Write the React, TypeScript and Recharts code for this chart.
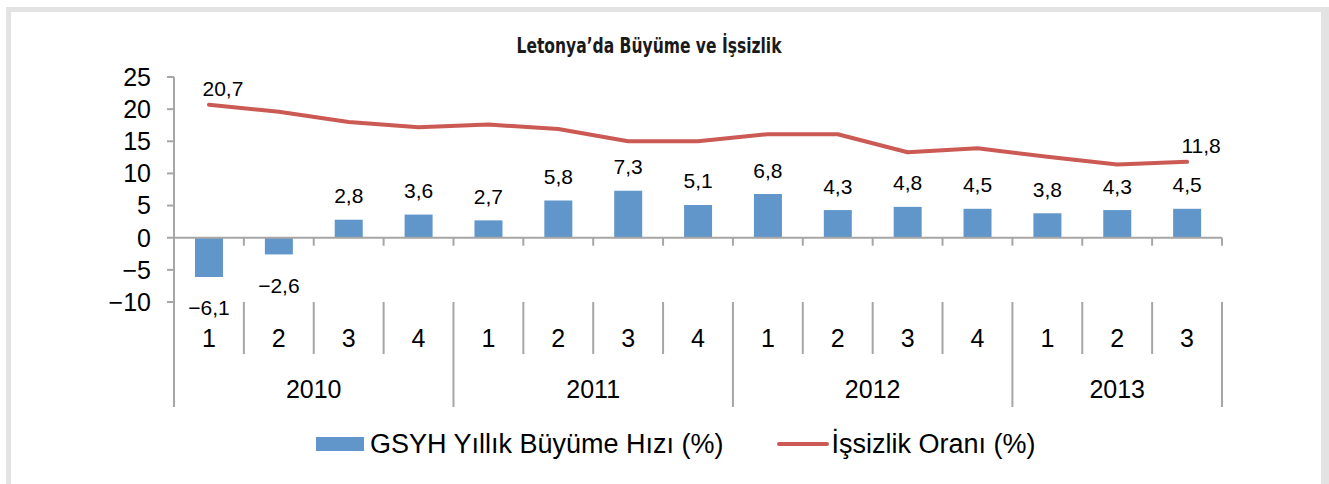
import React from 'react';
import { ComposedChart, Bar, Line, XAxis, YAxis, ReferenceLine, LabelList, Legend } from 'recharts';

const title = 'Letonya’da Büyüme ve İşsizlik';
const quarters = ['1', '2', '3', '4', '1', '2', '3', '4', '1', '2', '3', '4', '1', '2', '3'];
const years = ['2010', '2010', '2010', '2010', '2011', '2011', '2011', '2011', '2012', '2012', '2012', '2012', '2013', '2013', '2013'];
const gdpGrowth = [-6.1, -2.6, 2.8, 3.6, 2.7, 5.8, 7.3, 5.1, 6.8, 4.3, 4.8, 4.5, 3.8, 4.3, 4.5];
const unemployment = [20.7, 19.6, 18.0, 17.2, 17.6, 16.9, 15.0, 15.0, 16.1, 16.1, 13.3, 13.9, 12.6, 11.4, 11.8];
const yTicks = [-10, -5, 0, 5, 10, 15, 20, 25];
const seriesNames = ['GSYH Yıllık Büyüme Hızı (%)', 'İşsizlik Oranı (%)'];

const rows = quarters.map((q, i) => ({
  id: years[i] + '-' + q + '-' + i,
  q,
  year: years[i],
  gdp: gdpGrowth[i],
  unemp: unemployment[i],
}));

const FONT = "'Liberation Sans', Arial, sans-serif";
const AXIS_COLOR = '#a6a6a6';
const BAR_COLOR = '#6096c9';
const LINE_COLOR = '#cb5a55';

const fmt = (v: number) => v.toFixed(1).replace('.', ',').replace('-', '\u2212');
const fmtTick = (v: number) => String(v).replace('-', '\u2212');

const XTick = (props: any) => {
  const { x, y, payload, width } = props;
  const index = props.index ?? payload?.index ?? 0;
  const n = rows.length;
  const half = payload && payload.offset ? payload.offset : width / (2 * n);
  const row = rows[index];
  if (!row) return null;
  const left = x - half;
  const isYearStart = index === 0 || rows[index - 1].year !== row.year;
  const count = rows.filter((r) => r.year === row.year).length;
  return (
    <g>
      <line x1={left} x2={left} y1={y} y2={y + (isYearStart ? 105 : 52)} stroke={AXIS_COLOR} strokeWidth={2} />
      {index === n - 1 && (
        <line x1={x + half} x2={x + half} y1={y} y2={y + 105} stroke={AXIS_COLOR} strokeWidth={2} />
      )}
      <text x={x} y={y + 36} textAnchor="middle" dominantBaseline="central" fontSize={25} fontFamily={FONT} fill="#000">
        {row.q}
      </text>
      {isYearStart && (
        <text x={left + count * half} y={y + 87} textAnchor="middle" dominantBaseline="central" fontSize={25} fontFamily={FONT} fill="#000">
          {row.year}
        </text>
      )}
    </g>
  );
};

const ZeroAxis = (props: any) => {
  const { x1, x2, y1 } = props;
  const n = rows.length;
  const step = (x2 - x1) / n;
  return (
    <g>
      <line x1={x1} x2={x2} y1={y1} y2={y1} stroke={AXIS_COLOR} strokeWidth={2} />
      {rows.concat([rows[0]]).map((_, k) => (
        <line key={k} x1={x1 + k * step} x2={x1 + k * step} y1={y1} y2={y1 + 8} stroke={AXIS_COLOR} strokeWidth={2} />
      ))}
    </g>
  );
};

const BarLabel = (props: any) => {
  const vb = props.viewBox || props;
  const x = vb.x ?? props.x;
  const y = vb.y ?? props.y;
  const w = vb.width ?? props.width ?? 0;
  const h = vb.height ?? props.height ?? 0;
  const value = Number(props.value);
  const top = Math.min(y, y + h);
  const bottom = Math.max(y, y + h);
  const cy = value >= 0 ? top - 24 : bottom + 31;
  return (
    <text x={x + w / 2} y={cy} textAnchor="middle" dominantBaseline="central" fontSize={21} fontFamily={FONT} fill="#000">
      {fmt(value)}
    </text>
  );
};

const LineLabel = (props: any) => {
  const index = props.index;
  if (index !== 0 && index !== rows.length - 1) return null;
  const vb = props.viewBox || props;
  const x = vb.x ?? props.x;
  const y = vb.y ?? props.y;
  return (
    <text x={x + 14} y={y - 16} textAnchor="middle" dominantBaseline="central" fontSize={21} fontFamily={FONT} fill="#000">
      {fmt(Number(props.value))}
    </text>
  );
};

const renderLegend = () => (
  <div
    style={{
      height: 77,
      boxSizing: 'border-box',
      display: 'flex',
      alignItems: 'center',
      paddingLeft: 316,
      paddingBottom: 4,
      fontFamily: FONT,
      fontSize: 27,
      lineHeight: '30px',
      color: '#000',
      whiteSpace: 'nowrap',
    }}
  >
    <span style={{ display: 'inline-block', width: 48, height: 14, background: BAR_COLOR, marginRight: 6 }} />
    <span>{seriesNames[0]}</span>
    <span style={{ display: 'inline-block', width: 52, height: 4, borderRadius: 2, background: LINE_COLOR, marginLeft: 53, marginRight: 3 }} />
    <span>{seriesNames[1]}</span>
  </div>
);

export default function App() {
  return (
    <div style={{ position: 'absolute', left: 0, top: 0, width: 1329, height: 484, overflow: 'hidden', background: '#fff' }}>
      <div
        style={{
          position: 'absolute',
          left: 6,
          top: 7,
          width: 1323,
          height: 540,
          boxSizing: 'border-box',
          border: '5px solid #e3e3e3',
          borderRightWidth: 8,
        }}
      />
      <div style={{ position: 'absolute', left: 0, top: 0 }}>
        <ComposedChart width={1329} height={484} data={rows} margin={{ top: 77, right: 107, bottom: 0, left: 0 }}>
          <XAxis
            dataKey="id"
            type="category"
            interval={0}
            axisLine={false}
            tickLine={false}
            tickSize={0}
            tickMargin={0}
            height={105}
            tick={(p: any) => <XTick {...p} />}
          />
          <YAxis
            type="number"
            domain={[-10, 25]}
            ticks={yTicks}
            interval={0}
            width={174}
            axisLine={{ stroke: AXIS_COLOR, strokeWidth: 2 }}
            tickLine={{ stroke: AXIS_COLOR, strokeWidth: 2 }}
            tickSize={7}
            tickMargin={16}
            tickFormatter={fmtTick}
            tick={{ fill: '#000', fontSize: 25, fontFamily: FONT }}
          />
          <Bar dataKey="gdp" name={seriesNames[0]} fill={BAR_COLOR} barSize={28} isAnimationActive={false}>
            <LabelList dataKey="gdp" content={(p: any) => <BarLabel {...p} />} />
          </Bar>
          <ReferenceLine y={0} shape={(p: any) => <ZeroAxis {...p} />} />
          <Line
            dataKey="unemp"
            name={seriesNames[1]}
            stroke={LINE_COLOR}
            strokeWidth={4}
            strokeLinecap="round"
            strokeLinejoin="round"
            dot={false}
            activeDot={false}
            isAnimationActive={false}
          >
            <LabelList dataKey="unemp" content={(p: any) => <LineLabel {...p} />} />
          </Line>
          <Legend verticalAlign="bottom" height={77} content={renderLegend} />
        </ComposedChart>
      </div>
      <svg style={{ position: 'absolute', left: 0, top: 0 }} width={1329} height={80}>
        <text
          x={649}
          y={53}
          textAnchor="middle"
          fontFamily="'Liberation Sans Narrow', 'DejaVu Sans Condensed', 'Roboto Condensed', 'Liberation Sans', sans-serif"
          fontWeight="bold"
          fontSize={22}
          textLength={265}
          lengthAdjust="spacingAndGlyphs"
          fill="#1a1a1a"
        >
          {title}
        </text>
      </svg>
    </div>
  );
}
